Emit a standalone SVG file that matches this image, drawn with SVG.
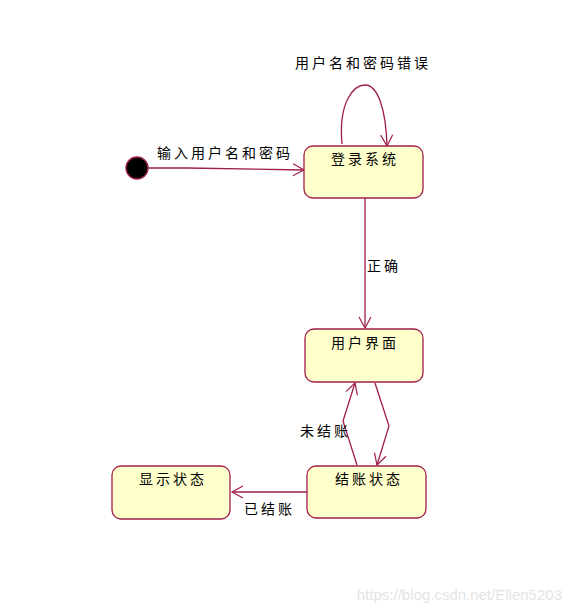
<svg xmlns="http://www.w3.org/2000/svg" width="574" height="616" viewBox="0 0 574 616">
<defs>
<marker id="arr" markerWidth="14" markerHeight="14" refX="12" refY="7" orient="auto" markerUnits="userSpaceOnUse">
<path d="M1,1 L12,7 L1,13" fill="none" stroke="#a01e4a" stroke-width="1.2"/>
</marker>
<style>
.st{fill:#ffffcc;stroke:#a01e4a;stroke-width:1.3}
.ln{fill:none;stroke:#a01e4a;stroke-width:1.3}
.t{font-family:"Noto Sans CJK SC","Noto Sans",sans-serif;font-size:14px;letter-spacing:3px;fill:#000}
</style>
</defs>
<rect width="574" height="616" fill="#fff"/>
<g id="connectors">
<polyline class="ln" points="148,168 187,168 304,170" marker-end="url(#arr)"/>
<path class="ln" d="M342,144 C338,100 355,85 365,85 C378,85 386,110 387,146" marker-end="url(#arr)"/>
<line class="ln" x1="365" y1="198" x2="365" y2="328" marker-end="url(#arr)"/>
<polyline class="ln" points="357,465 343,421 355,383" marker-end="url(#arr)"/>
<polyline class="ln" points="375,383 389,426 377,465" marker-end="url(#arr)"/>
<line class="ln" x1="307" y1="492" x2="232" y2="492" marker-end="url(#arr)"/>
<text class="t" x="157" y="158">输入用户名和密码</text>
<text class="t" x="295" y="68">用户名和密码错误</text>
<text class="t" x="367" y="271">正确</text>
<text class="t" x="300" y="436">未结账</text>
<text class="t" x="244" y="514">已结账</text>
</g>
<g id="initial"><circle cx="137" cy="168" r="11" fill="#000" stroke="#a01e4a" stroke-width="1.3"/></g>
<g id="login"><rect class="st" x="304" y="146" width="119" height="52" rx="9"/><text class="t" x="365" y="164" text-anchor="middle">登录系统</text></g>
<g id="user-ui"><rect class="st" x="305" y="329" width="118" height="53" rx="9"/><text class="t" x="365" y="348" text-anchor="middle">用户界面</text></g>
<g id="checkout"><rect class="st" x="307" y="466" width="119" height="52" rx="9"/><text class="t" x="369" y="484" text-anchor="middle">结账状态</text></g>
<g id="display"><rect class="st" x="112" y="466" width="118" height="53" rx="9"/><text class="t" x="173" y="484" text-anchor="middle">显示状态</text></g>
<text x="562" y="600" text-anchor="end" font-family="Liberation Sans, sans-serif" font-size="15" fill="#e4e4e4">https://blog.csdn.net/Ellen5203</text>
</svg>
